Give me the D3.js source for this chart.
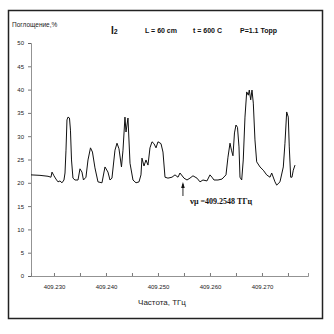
<!DOCTYPE html>
<html><head><meta charset="utf-8">
<script src="https://cdn.jsdelivr.net/npm/d3@7"></script>
<style>html,body{margin:0;padding:0;background:#fff}</style>
</head><body>
<svg id="c" width="334" height="334"></svg>
<script>
const freq = [409.22558,409.22731,409.22885,409.22942,409.22962,409.23000,409.23038,409.23077,409.23115,409.23154,
409.23192,409.23212,409.23231,409.23250,409.23269,409.23298,409.23317,409.23337,409.23365,409.23404,
409.23462,409.23500,409.23538,409.23567,409.23615,409.23654,409.23702,409.23740,409.23788,409.23846,
409.23923,409.23981,409.24038,409.24077,409.24115,409.24173,409.24212,409.24250,409.24298,409.24327,
409.24365,409.24385,409.24423,409.24462,409.24519,409.24577,409.24635,409.24673,409.24692,409.24731,
409.24769,409.24808,409.24846,409.24885,409.24923,409.24962,409.25000,409.25058,409.25096,409.25135,
409.25192,409.25269,409.25327,409.25385,409.25423,409.25500,409.25558,409.25615,409.25673,409.25750,
409.25808,409.25865,409.25942,409.26000,409.26038,409.26077,409.26154,409.26231,409.26308,409.26346,
409.26385,409.26413,409.26442,409.26471,409.26500,409.26529,409.26558,409.26577,409.26610,409.26640,
409.26673,409.26706,409.26737,409.26756,409.26783,409.26808,409.26833,409.26865,409.26898,409.26962,
409.27025,409.27090,409.27154,409.27187,409.27250,409.27283,409.27346,409.27410,409.27442,409.27475,
409.27506,409.27525,409.27552,409.27577,409.27602,409.27635];
const absorption = [21.7,21.6,21.4,21.2,22.3,21.5,20.8,20.2,20.4,20.0,
20.6,22.1,27.0,33.5,34.1,33.9,31.3,24.9,21.0,20.6,
20.6,23.0,22.3,20.6,21.2,24.9,27.5,26.6,23.2,20.2,
20.0,23.4,22.3,20.6,21.0,27.0,28.5,27.3,23.4,27.0,
34.1,30.9,33.9,24.2,20.6,20.0,20.2,21.7,25.3,23.6,
24.9,23.8,27.5,28.8,28.4,27.5,28.8,28.4,26.6,21.2,
21.0,21.2,21.7,21.2,22.1,21.0,20.6,21.0,21.5,21.0,
20.2,20.6,20.4,21.7,21.2,20.6,20.6,20.8,21.7,25.5,
28.5,27.0,25.8,30.7,32.4,31.9,27.7,21.2,20.6,24.9,
34.1,39.5,38.8,39.9,37.8,39.9,37.1,29.2,24.5,23.4,
22.7,21.7,21.2,22.1,20.2,19.5,20.2,23.4,28.5,35.2,
34.1,27.7,21.2,21.2,22.7,23.8];
const xTickValues = [409.230,409.235,409.240,409.245,409.250,409.255,409.260,409.265,409.270,409.275];
const xTickLabels = ["409.230","","409.240","","409.250","","409.260","","409.270",""];
const yTickValues = [0,5,10,15,20,25,30,35,40,45,50];
const markerFreq = 409.2548;
const markerLabel = "=409.2548 ТГц";

const svg = d3.select("#c");
// frame
svg.append("rect").attr("x",8.5).attr("y",10.5).attr("width",314).attr("height",308)
  .attr("fill","none").attr("stroke","#222").attr("stroke-width",1.5);

const x = d3.scaleLinear().domain([409.22558, 409.27885]).range([31, 308]);
const y = d3.scaleLinear().domain([0, 50]).range([276, 43]);

// axes
const gx = svg.append("g").attr("transform","translate(0,276)")
  .call(d3.axisBottom(x).tickValues(xTickValues).tickSize(-3).tickFormat((d,i)=>xTickLabels[i]).tickPadding(9));
gx.select(".domain").attr("stroke","#777").attr("stroke-width",0.8);
gx.selectAll(".tick line").attr("stroke","#555").attr("stroke-width",0.8);
gx.selectAll("text").attr("font-family","Liberation Sans, Arial, sans-serif").attr("font-size",6).attr("fill","#222");

const gy = svg.append("g").attr("transform","translate(31,0)")
  .call(d3.axisLeft(y).tickValues(yTickValues).tickSize(3).tickPadding(4));
gy.select(".domain").attr("stroke","#777").attr("stroke-width",0.8);
gy.selectAll(".tick line").attr("stroke","#555").attr("stroke-width",0.8);
gy.selectAll("text").attr("font-family","Liberation Sans, Arial, sans-serif").attr("font-size",6).attr("fill","#222");

// curve
const pts = freq.map((f,i)=>[f, absorption[i]]);
svg.append("path").datum(pts)
  .attr("d", d3.line().x(d=>x(d[0])).y(d=>y(d[1])))
  .attr("fill","none").attr("stroke","#111").attr("stroke-width",1);

// marker arrow
const mx = x(markerFreq);
svg.append("line").attr("x1",mx).attr("x2",mx).attr("y1",196).attr("y2",184)
  .attr("stroke","#111").attr("stroke-width",0.9);
svg.append("path").attr("d",`M${mx-1.8},${188}L${mx},${182}L${mx+1.8},${188}Z`).attr("fill","#111");
const mt = svg.append("text").attr("x",mx+7).attr("y",204)
  .attr("font-family","Liberation Serif, Times New Roman, serif").attr("font-weight","bold").attr("font-size",8).attr("fill","#111");
mt.append("tspan").text("ν").attr("font-size",9);
mt.append("tspan").text("μ ").attr("font-size",8);
mt.append("tspan").text(markerLabel);

// titles
const sans = "Liberation Sans, Arial, sans-serif";
svg.append("text").attr("x",12).attr("y",27).attr("font-family",sans).attr("font-size",6.5).attr("fill","#222").text("Поглощение,%");
const t1 = svg.append("text").attr("x",111).attr("y",34).attr("font-family",sans).attr("font-weight","bold").attr("fill","#111");
t1.append("tspan").attr("font-size",10).text("I");
t1.append("tspan").attr("font-size",7).attr("dy",0).text("2");
svg.append("text").attr("x",145).attr("y",33).attr("font-family",sans).attr("font-weight","bold").attr("font-size",7).attr("fill","#111").text("L = 60 cm");
svg.append("text").attr("x",193).attr("y",33).attr("font-family",sans).attr("font-weight","bold").attr("font-size",7).attr("fill","#111").text("t = 600 C");
svg.append("text").attr("x",240).attr("y",33).attr("font-family",sans).attr("font-weight","bold").attr("font-size",7).attr("fill","#111").text("P=1.1 Торр");
svg.append("text").attr("x",162).attr("y",305).attr("text-anchor","middle").attr("font-family",sans).attr("font-size",8).attr("fill","#222").text("Частота,  ТГц");
</script>
</body></html>
